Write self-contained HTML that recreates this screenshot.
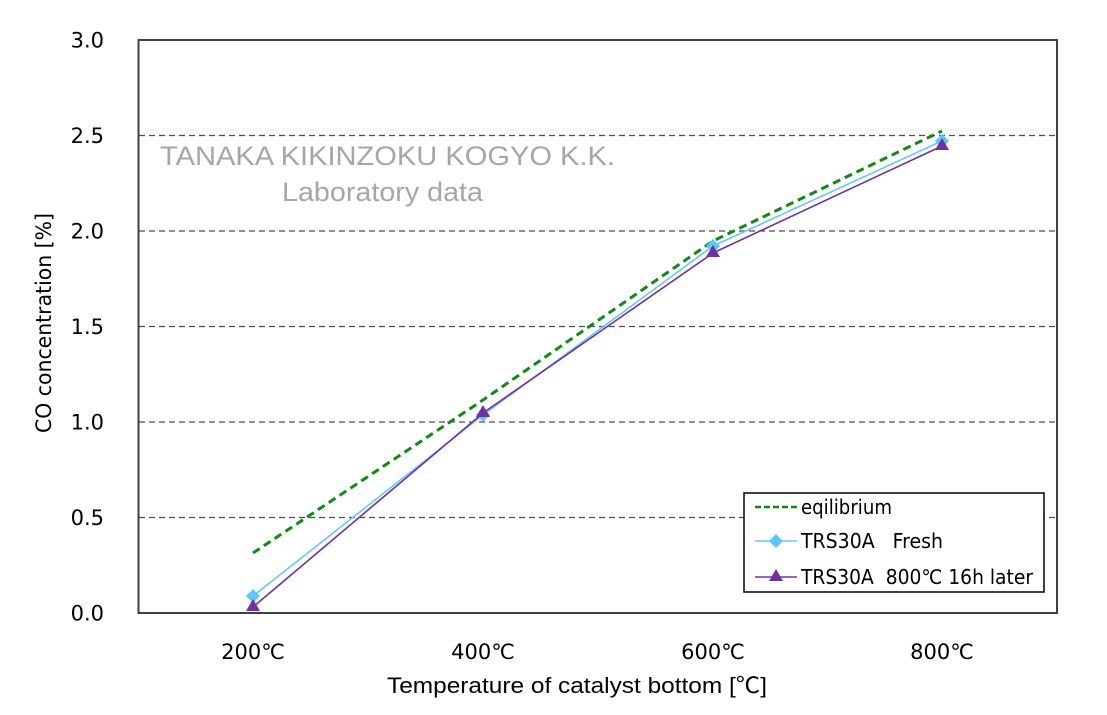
<!DOCTYPE html>
<html>
<head>
<meta charset="utf-8">
<style>
  html, body { margin: 0; padding: 0; background: #ffffff; }
  svg { display: block; }
  .tick { font-family: "DejaVu Sans", "Noto Sans CJK JP", sans-serif; font-size: 21px; fill: #000; }
  .ttl { font-family: "Liberation Sans", "Noto Sans CJK JP", sans-serif; font-size: 22px; fill: #000; }
  .wm { font-family: "Liberation Sans", sans-serif; font-size: 27px; fill: #a6a6a6; }
  .leg { font-family: "DejaVu Sans", "Noto Sans CJK JP", sans-serif; font-size: 20px; fill: #000; }
</style>
</head>
<body>
<svg width="1107" height="715" viewBox="0 0 1107 715" xmlns="http://www.w3.org/2000/svg">
  <rect x="0" y="0" width="1107" height="715" fill="#ffffff"/>

  <!-- gridlines -->
  <g stroke="#4d4d4d" stroke-width="1.3" stroke-dasharray="6,4" fill="none">
    <line x1="139" y1="135.5" x2="1057" y2="135.5"/>
    <line x1="139" y1="231" x2="1057" y2="231"/>
    <line x1="139" y1="326.5" x2="1057" y2="326.5"/>
    <line x1="139" y1="422" x2="1057" y2="422"/>
    <line x1="139" y1="517.5" x2="1057" y2="517.5"/>
  </g>

  <!-- plot frame -->
  <rect x="138.5" y="40" width="918.5" height="573" fill="none" stroke="#404040" stroke-width="2"/>

  <!-- watermark -->
  <text class="wm" x="160" y="165" textLength="455" lengthAdjust="spacingAndGlyphs">TANAKA KIKINZOKU KOGYO K.K.</text>
  <text class="wm" x="282" y="201" textLength="201" lengthAdjust="spacingAndGlyphs">Laboratory data</text>

  <!-- y tick labels -->
  <g class="tick" text-anchor="end">
    <text x="104" y="47.5">3.0</text>
    <text x="104" y="143">2.5</text>
    <text x="104" y="238.5">2.0</text>
    <text x="104" y="334">1.5</text>
    <text x="104" y="429.5">1.0</text>
    <text x="104" y="525">0.5</text>
    <text x="104" y="620.5">0.0</text>
  </g>

  <!-- x tick labels -->
  <g class="tick" text-anchor="middle">
    <text x="253" y="659">200℃</text>
    <text x="483" y="659">400℃</text>
    <text x="713" y="659">600℃</text>
    <text x="942" y="659">800℃</text>
  </g>

  <!-- axis titles -->
  <text class="ttl" x="387" y="693" textLength="380" lengthAdjust="spacingAndGlyphs">Temperature of catalyst bottom [℃]</text>
  <text class="tick" transform="translate(51,433) rotate(-90)" x="0" y="0" textLength="220" lengthAdjust="spacingAndGlyphs">CO concentration [%]</text>

  <!-- equilibrium -->
  <polyline points="253,553 483,400 713,241 942,131" fill="none" stroke="#118a11" stroke-width="3" stroke-dasharray="8,5"/>

  <!-- fresh -->
  <polyline points="253,596 483,415 713,246 942,141" fill="none" stroke="#66c8f5" stroke-width="1.6"/>
  <g fill="#5ec6f8">
    <polygon points="253,589 260,596 253,603 246,596"/>
    <polygon points="483,408 490,415 483,422 476,415"/>
    <polygon points="713,239 720,246 713,253 706,246"/>
    <polygon points="942,134 949,141 942,148 935,141"/>
  </g>

  <!-- aged -->
  <polyline points="253,607 483,413 713,253 942,146" fill="none" stroke="#7030a0" stroke-width="1.6"/>
  <g fill="#7030a0">
    <polygon points="253,599 260,611 246,611"/>
    <polygon points="483,405 490,417 476,417"/>
    <polygon points="713,245 720,257 706,257"/>
    <polygon points="942,138 949,150 935,150"/>
  </g>

  <!-- legend -->
  <rect x="744" y="493" width="300" height="99" fill="#ffffff" stroke="#000000" stroke-width="1.5"/>
  <line x1="755" y1="507" x2="797" y2="507" stroke="#118a11" stroke-width="2.5" stroke-dasharray="6,3"/>
  <text class="leg" x="801" y="514" textLength="91" lengthAdjust="spacingAndGlyphs">eqilibrium</text>

  <line x1="755" y1="541" x2="797" y2="541" stroke="#66c8f5" stroke-width="1.6"/>
  <polygon points="776,534 783,541 776,548 769,541" fill="#5ec6f8"/>
  <text class="leg" x="801" y="548" textLength="142" lengthAdjust="spacingAndGlyphs" xml:space="preserve">TRS30A   Fresh</text>

  <line x1="755" y1="577" x2="797" y2="577" stroke="#7030a0" stroke-width="1.6"/>
  <polygon points="776,569 783,581 769,581" fill="#7030a0"/>
  <text class="leg" x="801" y="584" textLength="232" lengthAdjust="spacingAndGlyphs" xml:space="preserve">TRS30A  800℃ 16h later</text>
</svg>
</body>
</html>
